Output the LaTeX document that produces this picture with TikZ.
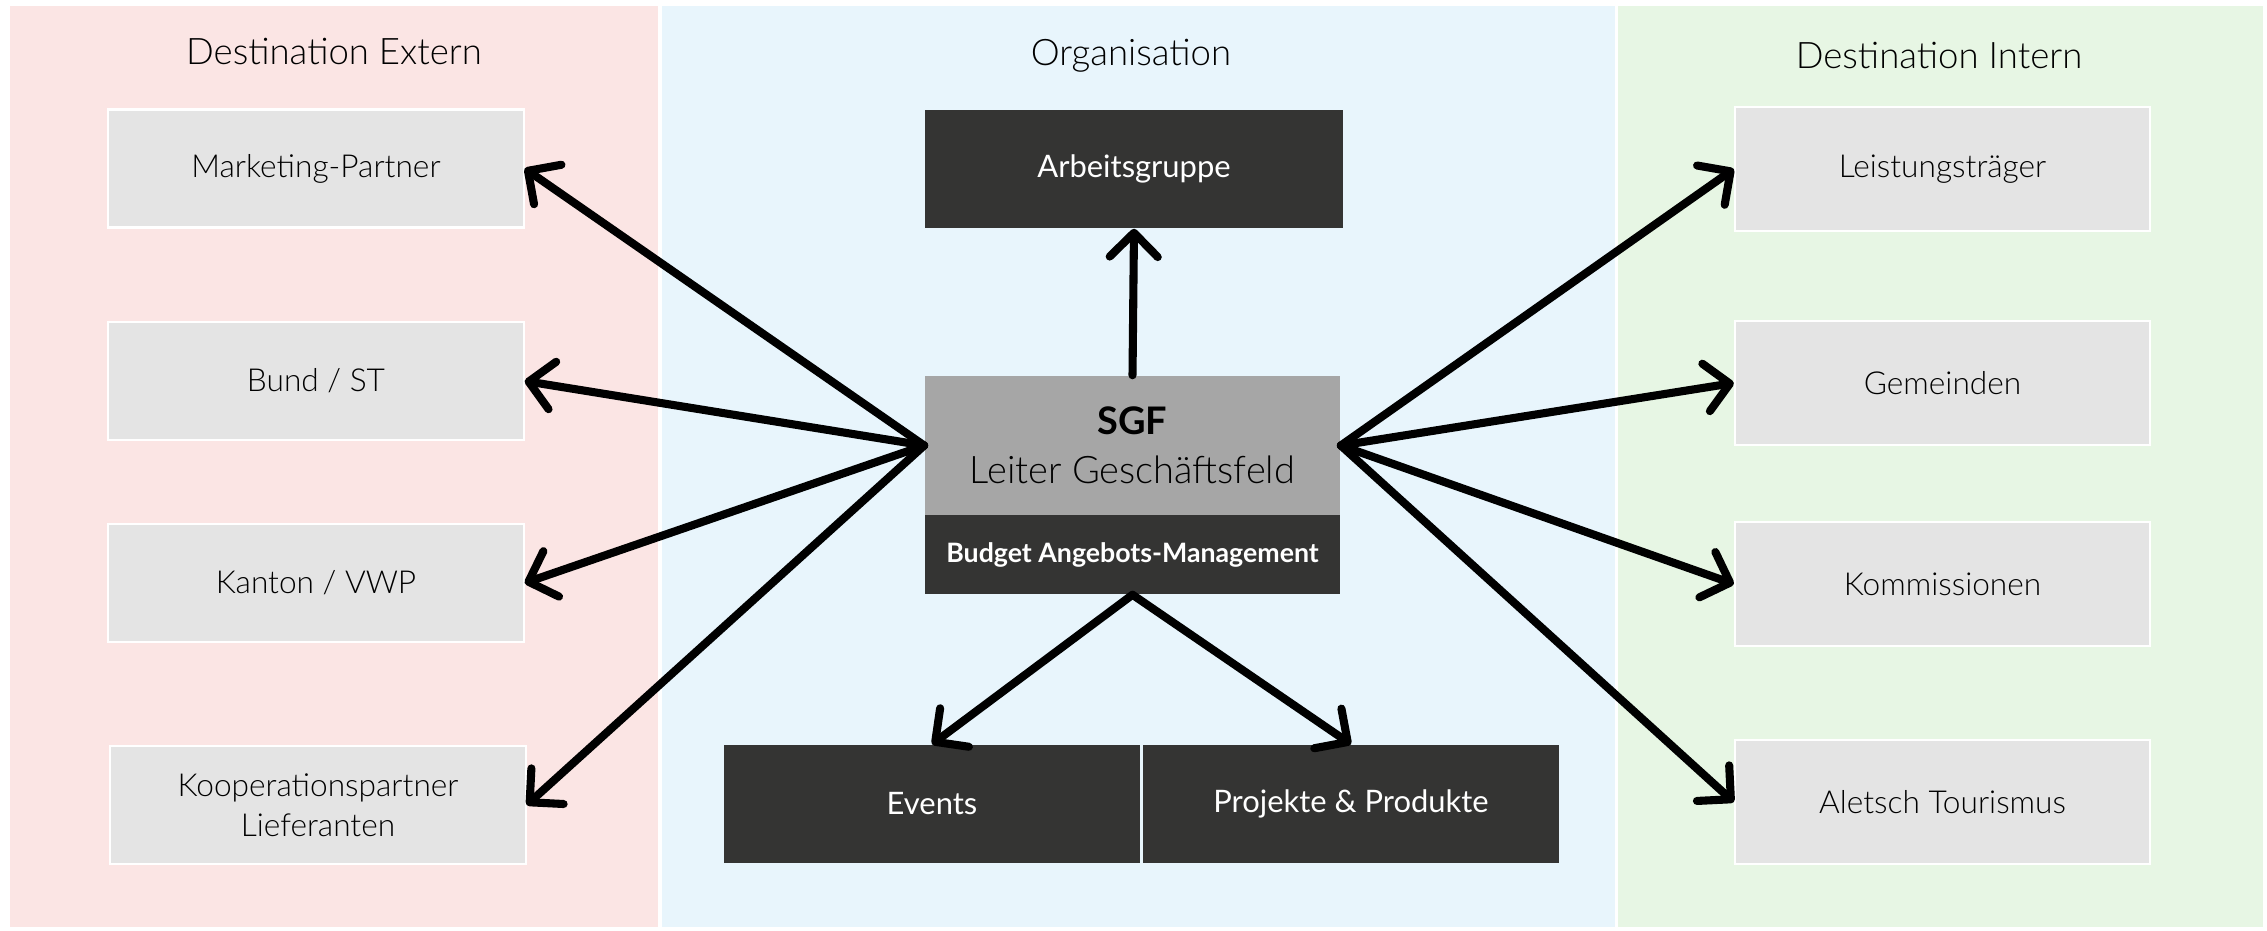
\documentclass[tikz,border=0pt]{standalone}
\usepackage{fontspec}
\setmainfont{Lato}[UprightFont=* Light,BoldFont=* Bold]
\newfontfamily\latoreg{Lato}
\usetikzlibrary{arrows.meta}
\definecolor{pinkbg}{HTML}{FBE5E4}
\definecolor{bluebg}{HTML}{E8F5FC}
\definecolor{greenbg}{HTML}{E7F6E4}
\definecolor{boxgray}{HTML}{E4E4E4}
\definecolor{darkbox}{HTML}{343433}
\definecolor{sgfgray}{HTML}{A6A6A6}
\begin{document}
\begin{tikzpicture}[x=0.01cm,y=-0.01cm,
  lightbox/.style={draw=white,line width=0.6pt,fill=boxgray,minimum width=4.15cm,minimum height=1.18cm,inner sep=0pt,align=center,font=\fontsize{9}{11.5}\selectfont,text=black},
  darkbx/.style={draw=none,fill=darkbox,minimum width=4.15cm,minimum height=1.18cm,inner sep=0pt,align=center,font=\latoreg\fontsize{8.8}{11.5}\selectfont,text=white},
  ptitle/.style={font=\fontsize{10.4}{13}\selectfont,text=black},
  conn/.style={line width=2.3pt,-{Straight Barb[length=2.4mm,width=4.8mm,line cap=round,line join=round]},line cap=round}
]
\useasboundingbox[fill=white] (0,0) rectangle (2267,930);
% panels
\fill[pinkbg] (10,6) rectangle (658,927);
\fill[bluebg] (662,6) rectangle (1615,927);
\fill[greenbg] (1618,6) rectangle (2263,927);
\node[ptitle] (tl) at (334,51) {Destination Extern};
\node[ptitle] (tm) at (1131,56) {Organisation};
\node[ptitle] (tr) at (1939,55) {Destination Intern};
% left
\node[lightbox] (mp) at (316,168.5) {Marketing-Partner};
\node[lightbox] (bund) at (316,381) {Bund / ST};
\node[lightbox] (kanton) at (316,583) {Kanton / VWP};
\node[lightbox] (koop) at (318,805) {Kooperationspartner\\Lieferanten};
% right
\node[lightbox,minimum height=1.24cm] (lt) at (1942.5,169) {Leistungsträger};
\node[lightbox,minimum height=1.24cm] (gem) at (1942.5,383) {Gemeinden};
\node[lightbox,minimum height=1.24cm] (kom) at (1942.5,584) {Kommissionen};
\node[lightbox,minimum height=1.24cm] (al) at (1942.5,802) {Aletsch Tourismus};
% middle
\node[darkbx,minimum width=4.18cm] (arb) at (1134,169) {Arbeitsgruppe};
\node[draw=none,fill=sgfgray,minimum width=4.15cm,minimum height=1.39cm,inner sep=0pt,align=center,font=\fontsize{10.8}{14}\selectfont] (sgf) at (1132.5,445.5) {\textbf{SGF}\\Leiter Geschäftsfeld};
\node[draw=none,fill=darkbox,minimum width=4.15cm,minimum height=0.79cm,inner sep=0pt,font=\bfseries\fontsize{7.6}{9}\selectfont,text=white] (bud) at (1132.5,554.5) {Budget Angebots-Management};
\node[darkbx] (ev) at (932,804) {Events};
\node[darkbx] (pp) at (1351,804) {Projekte \& Produkte};
% connectors
\draw[conn] (sgf.west) -- (mp.east);
\draw[conn] (sgf.west) -- (bund.east);
\draw[conn] (sgf.west) -- (kanton.east);
\draw[conn] (sgf.west) -- (koop.east);
\draw[conn] (sgf.east) -- (lt.west);
\draw[conn] (sgf.east) -- (gem.west);
\draw[conn] (sgf.east) -- (kom.west);
\draw[conn] (sgf.east) -- (al.west);
\draw[conn] (sgf.north) -- (arb.south);
\draw[conn] (bud.south) -- (ev.north);
\draw[conn] (bud.south) -- (pp.north);
\end{tikzpicture}
\end{document}
